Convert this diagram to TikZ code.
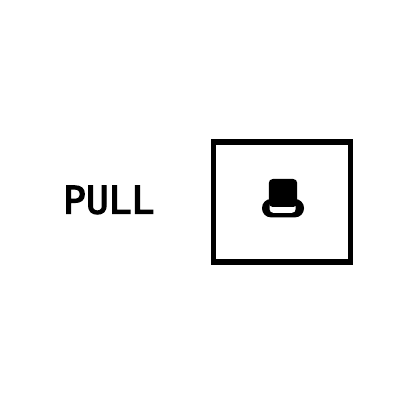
\documentclass[tikz,border=0pt]{standalone}
\usepackage{fontspec}
\usepackage{xcolor}
\usepackage{tikz}
\newfontfamily\pullfont[FakeBold=3.5]{DejaVu Sans Mono}
\begin{document}
\begin{tikzpicture}[
  frame/.style={draw=black, line width=4pt, minimum width=3.42cm, minimum height=3cm, inner sep=0pt},
  lab/.style={font=\pullfont\fontsize{27}{30}\selectfont, inner sep=0pt, text=black},
  hat/.style={fill=black, draw=none}
]
  \useasboundingbox (0,0) rectangle (10,10);

  % Label and box
  \node[lab]   (pull) at (2.72, 5.0) {PULL};
  \node[frame] (box)  at (7.05, 4.95) {};

  % Top hat: brim, gap, crown
  \fill[hat, rounded corners=0.225cm] (6.55, 4.565) rectangle (7.6, 5.025);
  \fill[white, rounded corners=0.09cm] (6.74, 4.68) rectangle (7.39, 5.0);
  \fill[hat, rounded corners=0.1cm] (6.72, 4.825) rectangle (7.43, 5.525);
\end{tikzpicture}
\end{document}
